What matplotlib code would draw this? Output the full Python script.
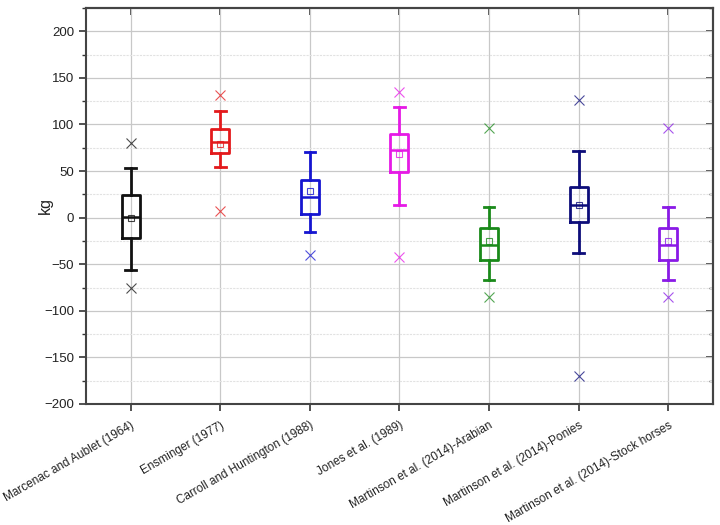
import matplotlib
matplotlib.use("Agg")
import matplotlib.pyplot as plt
from matplotlib.ticker import MultipleLocator, FixedLocator

plt.rcParams['font.family'] = ['Liberation Sans', 'DejaVu Sans']

categories = ["Marcenac and Aublet (1964)", "Ensminger (1977)", "Carroll and Huntington (1988)",
              "Jones et al. (1989)", "Martinson et al. (2014)-Arabian",
              "Martinson et al. (2014)-Ponies", "Martinson et al. (2014)-Stock horses"]
whisker_low = [-56.5, 54.5, -15, 14, -67, -38, -67]
q1 = [-21.8, 69, 4, 49.5, -45.5, -4.3, -45.5]
median = [1, 81, 22.5, 73, -29.5, 14, -29.5]
mean = [0, 79.5, 28.7, 68, -25.5, 13.5, -25.5]
q3 = [24.2, 95, 40, 89.5, -11, 33.4, -11]
whisker_high = [52.8, 114, 70, 118.8, 11.3, 71, 11.3]
outlier_high = [80.2, 131.5, None, 135.3, 96.7, 126, 96.7]
outlier_low = [-75.3, 7.3, -40.2, -42, -85, -169.6, -85]
colors = ["#111111", "#e31a1c", "#1515d0", "#e619e6", "#1a8a1a", "#0d0d7a", "#8a1ae6"]

fig = plt.figure(figsize=(7.2, 5.25), dpi=100)
ax = fig.add_axes([0.1194, 0.2305, 0.8708, 0.7543])

positions = list(range(1, len(categories) + 1))
for i, pos in enumerate(positions):
    fl = [v for v in (outlier_high[i], outlier_low[i]) if v is not None]
    stats = [dict(med=median[i], q1=q1[i], q3=q3[i], whislo=whisker_low[i],
                  whishi=whisker_high[i], mean=mean[i], fliers=fl, label=categories[i])]
    c = colors[i]
    ax.bxp(stats, positions=[pos], widths=0.2, showmeans=True, showfliers=True,
           patch_artist=False, manage_ticks=False,
           boxprops=dict(color=c, linewidth=2.0),
           medianprops=dict(color=c, linewidth=1.8),
           whiskerprops=dict(color=c, linewidth=2.0),
           capprops=dict(color=c, linewidth=2.0),
           capwidths=0.12,
           meanprops=dict(marker='s', markerfacecolor='none', markeredgecolor=c,
                          markersize=5, markeredgewidth=0.8, alpha=0.8),
           flierprops=dict(marker='x', markeredgecolor=c, markersize=6.5,
                           markeredgewidth=0.8, alpha=0.75),
           zorder=3)

ax.set_xlim(0.5, 7.5)
ax.set_ylim(-200, 225)
ax.yaxis.set_major_locator(MultipleLocator(50))
ax.yaxis.set_minor_locator(MultipleLocator(25))
ax.xaxis.set_major_locator(FixedLocator(positions))
ax.set_xticklabels(categories, rotation=30, ha='right', rotation_mode='anchor',
                   fontsize=8.5, color='#222222')
ax.tick_params(axis='y', which='major', labelsize=9.5, labelcolor='#222222', direction='out',
               length=5, width=1.2, color='#333333')
ax.tick_params(axis='y', which='minor', direction='out', length=3, width=1, color='#333333')
ax.tick_params(axis='x', which='major', direction='out', length=5, width=1.2, color='#333333', pad=6)

ax.grid(True, which='major', axis='both', color='#c8c8c8', linewidth=0.9, zorder=0)
ax.grid(True, which='minor', axis='y', color='#e2e2e2', linewidth=0.8, linestyle=(0, (2, 1)), zorder=0)
ax.set_axisbelow(True)

for s in ax.spines.values():
    s.set_color('#444444')
    s.set_linewidth(1.5)

# mirrored ticks on top and right (inward)
ax_r = ax.secondary_yaxis('right')
ax_r.yaxis.set_major_locator(MultipleLocator(50))
ax_r.yaxis.set_minor_locator(MultipleLocator(25))
ax_r.tick_params(which='major', direction='in', length=5, width=1.2, labelright=False, color='#333333')
ax_r.tick_params(which='minor', direction='in', length=3, width=1, labelright=False, color='#333333')
ax_r.spines['right'].set_color('#444444')
ax_r.spines['right'].set_linewidth(1.5)
ax_t = ax.secondary_xaxis('top')
ax_t.xaxis.set_major_locator(FixedLocator(positions))
ax_t.tick_params(which='major', direction='in', length=5, width=1.2, labeltop=False, color='#333333')
ax_t.spines['top'].set_color('#444444')
ax_t.spines['top'].set_linewidth(1.5)

ax.set_ylabel('kg', fontsize=11.5, color='#222222')
ax.yaxis.set_label_coords(-0.052, 0.5)

fig.savefig('out.png', dpi=100)
